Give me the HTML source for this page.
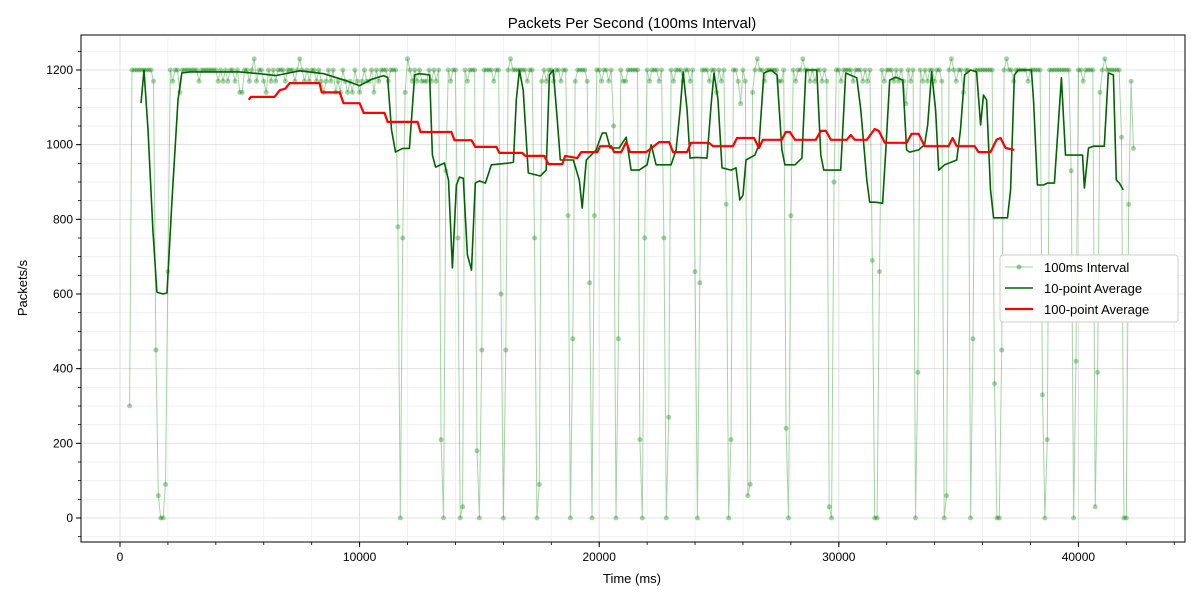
<!DOCTYPE html>
<html><head><meta charset="utf-8"><style>
body{margin:0;background:#fff;}
svg{display:block;font-family:"Liberation Sans","DejaVu Sans",sans-serif;}
</style></head><body>
<svg id="chart" width="1200" height="600" viewBox="0 0 1200 600">
<rect x="0" y="0" width="1200" height="600" fill="#fff"/>
<text x="632" y="28" text-anchor="middle" font-size="15" fill="#000">Packets Per Second (100ms Interval)</text>
<g id="grid"></g>
<g id="series"></g>
<rect x="81" y="35" width="1104" height="507" fill="none" stroke="#000" stroke-width="1"/>
<g id="axes"></g>
<text x="632" y="583" text-anchor="middle" font-size="13">Time (ms)</text>
<text x="0" y="0" transform="translate(27,288) rotate(-90)" text-anchor="middle" font-size="13">Packets/s</text>
<g id="legend">
<rect x="1000" y="255" width="178" height="67" rx="3" fill="#fff" fill-opacity="0.85" stroke="#ccc"/>
<g><line x1="1005" y1="267" x2="1033" y2="267" stroke="green" stroke-opacity="0.35"/><circle cx="1019" cy="267" r="2.5" fill="green" fill-opacity="0.4"/><text x="1044" y="272" font-size="13">100ms Interval</text></g>
<g><line x1="1005" y1="288" x2="1033" y2="288" stroke="#006400" stroke-width="1.6"/><text x="1044" y="293" font-size="13">10-point Average</text></g>
<g><line x1="1005" y1="309" x2="1033" y2="309" stroke="red" stroke-width="2.2"/><text x="1044" y="314" font-size="13">100-point Average</text></g>
</g>
</svg>
<script>
const rawStart = 400;
const rawStep = 100;
const rawValues = [
300,1200,1200,1200,1200,1200,1200,1200,1200,1200,
1170,450,60,0,0,90,660,1200,1170,1200,
1200,1140,1200,1200,1200,1200,1200,1200,1200,1170,
1200,1200,1200,1200,1200,1200,1200,1170,1200,1170,
1200,1170,1200,1200,1170,1200,1140,1140,1200,1200,
1170,1200,1230,1170,1200,1200,1170,1140,1200,1170,
1200,1170,1200,1200,1200,1170,1200,1200,1200,1170,
1200,1230,1200,1170,1200,1170,1200,1200,1170,1200,
1170,1140,1170,1200,1170,1200,1140,1170,1140,1200,
1170,1140,1170,1140,1200,1170,1140,1170,1200,1170,
1170,1200,1140,1200,1170,1200,1200,1200,1170,1200,
1200,1200,780,0,750,1140,1230,1200,1170,1200,
1170,1200,1170,1170,1170,1200,1170,1200,1170,1200,
210,0,930,1200,1170,1200,1200,750,0,30,
1200,1170,1200,1200,1200,180,0,450,1200,1200,
1200,1200,1170,1200,1200,600,0,450,1200,1230,
1200,1200,1200,1200,1200,1200,1170,1200,1200,750,
0,90,1170,1200,1170,1200,1200,1170,1200,1200,
1170,1200,1200,810,0,480,1170,1200,1200,1200,
1200,1170,630,0,810,1200,1200,1170,1200,1200,
1170,1200,1050,0,480,1200,1170,1170,1200,1200,
1200,1200,1200,210,0,750,1200,1170,1200,1200,
1200,1170,1200,750,0,270,1200,1170,1200,1200,
1200,1170,1200,1200,1170,1200,660,0,630,1200,
1200,1200,1170,1200,1200,1140,1200,1170,1200,840,
0,210,1200,1200,1170,1110,1200,1170,60,90,
1140,1200,1230,1200,1200,1170,1200,1200,1200,1200,
1200,1170,1170,1200,240,0,810,1200,1170,1200,
1200,1230,1200,1200,1170,1200,1170,1200,1200,1170,
1200,1170,30,0,900,1200,1200,1170,1200,1200,
1200,1200,1170,1200,1200,1200,1170,1200,1170,1200,
690,0,0,660,1200,1170,1200,1200,1200,1170,
1200,1170,1200,1170,1110,1200,1170,1200,0,390,
1200,1170,1200,1170,1200,1200,1170,1200,1200,1170,
0,60,1200,1230,1200,1170,1200,1200,1140,1200,
1200,0,480,1200,1200,1200,1200,1200,1200,1200,
1200,360,0,0,450,1200,1230,1200,1200,1170,
1200,1200,1200,1200,1200,1170,1200,1200,1200,1200,
1200,330,0,210,1200,1200,1200,1200,1200,1200,
1200,1200,1200,930,0,420,1200,1200,1170,1200,
1200,1200,1200,30,390,1140,1200,1230,1200,1200,
1200,1200,1200,1200,1020,0,0,840,1170,990
];
const avg10Times = [875,1000,1170,1375,1540,1790,1960,2170,2420,2580,2920,5000,5830,6500,7500,8500,9500,10000,10500,11000,11170,11330,11500,11790,12080,12300,12500,12920,13040,13170,13540,13710,13875,14040,14170,14330,14500,14670,14830,15000,15250,15500,16250,16420,16540,16670,16830,17040,17290,17540,17790,17920,18080,18250,18375,18670,18920,19170,19290,19460,19875,20125,20290,20460,20830,21125,21330,21670,22000,22170,22375,23000,23210,23375,23500,23670,23790,24040,24500,24670,24790,24960,25125,25500,25710,25870,26000,26125,26500,26670,26875,27170,27420,27625,27750,28170,28460,28625,29080,29250,29375,30080,30290,30750,30920,31170,31290,31540,31830,31960,32125,32375,32670,32830,32960,33330,33580,33710,33875,34040,34170,34420,34920,35080,35250,35500,35750,35920,36040,36170,36330,36460,37040,37170,37330,37500,38040,38125,38290,38540,38710,39000,39290,39460,39670,40170,40250,40420,40625,41080,41250,41460,41580,41710,41870];
const avg10Values = [1111,1200,1040,771,605,600,603,852,1120,1192,1195,1195,1190,1185,1198,1190,1170,1158,1175,1185,1180,1040,980,990,990,1187,1190,1187,972,940,951,905,670,892,913,910,705,664,897,903,897,946,951,953,1120,1200,1146,924,920,916,932,1187,1200,1066,959,959,959,905,830,959,986,1031,1031,991,991,1020,932,932,946,1000,946,946,986,1093,1195,1093,964,966,964,1106,1192,1120,938,932,938,852,865,959,972,1000,1192,1200,1187,986,946,946,964,1200,1200,972,932,932,1192,1179,1093,905,846,846,843,986,1173,1181,1173,986,980,986,1000,1053,1195,1093,932,946,959,1040,1187,1200,1195,1053,1133,1120,879,804,804,879,1187,1200,1200,1120,892,892,897,897,1179,972,972,972,884,991,996,996,1192,1187,905,897,879];
const avg100Times = [5375,5460,6450,6670,6900,7080,8330,8420,9170,9330,10000,10170,11040,11170,12420,12540,13830,13960,14670,14830,15710,15830,16790,16920,17710,17880,18460,18580,19080,19250,19920,20040,20500,20625,20920,21125,21290,21960,22500,22920,23080,23670,23830,24580,24750,25580,25750,26460,26670,26830,27620,27790,27960,28170,29040,29250,29460,29670,30330,30500,30670,31170,31500,31670,31920,32830,33040,33330,33580,34580,34750,34920,35670,35830,36330,36580,36750,36960,37330];
const avg100Values = [1120,1128,1128,1146,1150,1165,1165,1140,1140,1111,1111,1085,1085,1061,1061,1034,1034,1012,1012,994,994,978,978,970,970,948,948,970,964,980,980,996,996,980,980,1007,980,980,1007,1007,980,980,1005,1005,996,996,1018,1018,991,1013,1013,1034,1034,1013,1013,1037,1037,1013,1013,1026,1013,1013,1042,1037,1005,1005,1029,1029,996,996,1018,996,996,980,980,1013,1018,991,986];
const xTicks = [0,10000,20000,30000,40000];
const yTicks = [0,200,400,600,800,1000,1200];

const NS='http://www.w3.org/2000/svg';
const X = t => 120 + t*0.02396;
const Y = v => 518 - v*0.37333;
function mk(tag, attrs, parent){const e=document.createElementNS(NS,tag);for(const k in attrs)e.setAttribute(k,attrs[k]);parent.appendChild(e);return e;}
const grid=document.getElementById('grid'), axes=document.getElementById('axes'), series=document.getElementById('series');
for(let t=-4000;t<=44000;t+=2000){const x=X(t);if(x<82||x>1184)continue;
 const l=mk('line',{x1:x,x2:x,y1:35,y2:542,stroke:'#eee','stroke-width':0.8},grid);
 
 
 const tk=mk('line',{x1:x,x2:x,y1:542,y2:545,stroke:'#000','stroke-width':0.8},axes);
 
 }
for(let v=-50;v<=1300;v+=50){const y=Y(v);if(y<36||y>541)continue;
 const l=mk('line',{x1:81,x2:1185,y1:y,y2:y,stroke:'#eee','stroke-width':0.8},grid);
 
 
 const tk=mk('line',{x1:78,x2:81,y1:y,y2:y,stroke:'#000','stroke-width':0.8},axes);
 
 }
xTicks.forEach(t=>{const x=X(t);
 const l=mk('line',{x1:x,x2:x,y1:35,y2:542,stroke:'#ddd','stroke-width':0.8},grid);
 
 
 const tk=mk('line',{x1:x,x2:x,y1:542,y2:547,stroke:'#000'},axes);
 
 
 const tx=mk('text',{x:x,y:561,'text-anchor':'middle','font-size':12},axes);tx.textContent=t;
 
 });
yTicks.forEach(v=>{const y=Y(v);
 const l=mk('line',{x1:81,x2:1185,y1:y,y2:y,stroke:'#ddd','stroke-width':0.8},grid);
 
 
 const tk=mk('line',{x1:76,x2:81,y1:y,y2:y,stroke:'#000'},axes);
 
 
 const tx=mk('text',{x:73,y:y+4,'text-anchor':'end','font-size':12},axes);tx.textContent=v;
 
 });
const rawPts=rawValues.map((v,i)=>X(rawStart+i*rawStep).toFixed(1)+','+Y(v).toFixed(1)).join(' ');
const rl=mk('polyline',{points:rawPts,fill:'none',stroke:'green','stroke-opacity':0.35,'stroke-width':1},series);


rawValues.forEach((v,i)=>{const c=mk('circle',{cx:X(rawStart+i*rawStep),cy:Y(v),r:2.5,fill:'green','fill-opacity':0.35},series);
 
 });
const a10=mk('polyline',{points:avg10Times.map((t,i)=>X(t).toFixed(1)+','+Y(avg10Values[i]).toFixed(1)).join(' '),fill:'none',stroke:'#006400','stroke-width':1.6,'stroke-linejoin':'round'},series);


const a100=mk('polyline',{points:avg100Times.map((t,i)=>X(t).toFixed(1)+','+Y(avg100Values[i]).toFixed(1)).join(' '),fill:'none',stroke:'red','stroke-width':2.2,'stroke-linejoin':'round'},series);


</script>
</body></html>
